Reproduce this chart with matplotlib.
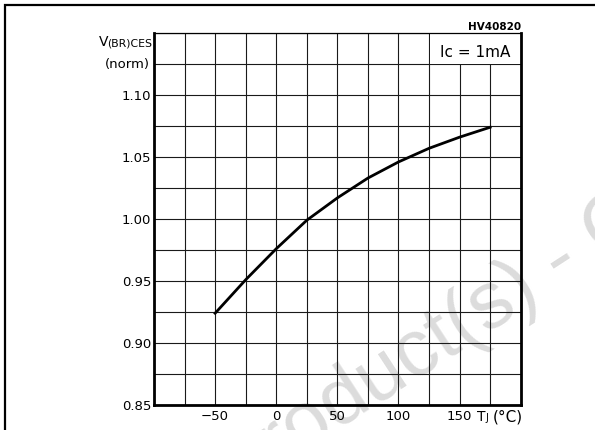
import numpy as np
import matplotlib.pyplot as plt
from matplotlib.patches import Rectangle

# junction temperature (degC) and normalised breakdown voltage
temp_c = [-50, -25, 0, 25, 50, 75, 100, 125, 150, 175]
v_norm = [0.924, 0.951, 0.976, 0.999, 1.017, 1.033, 1.046, 1.057, 1.066, 1.074]

x_labels = [-50, 0, 50, 100, 150]
y_labels = [0.85, 0.90, 0.95, 1.00, 1.05, 1.10]

plt.rcParams['font.family'] = ['DejaVu Sans']

fig = plt.figure(figsize=(5.95, 4.30), dpi=100)
W, H = 595.0, 430.0

# outer frame (cut by the image edge on the right and bottom)
fig.patches.append(Rectangle((5 / W, -0.2), 1.2, (1 - 5 / H) + 0.2,
                             transform=fig.transFigure, fill=False,
                             edgecolor='black', linewidth=1.6))

# faint watermark, sits behind the grid
fig.text(233 / W, 1 - 499 / H, 'Product(s) - Obsolete Product(s)',
         rotation=33, rotation_mode='anchor', ha='left', va='baseline',
         fontsize=57.6, color='#dcdcdc', family='Liberation Sans', zorder=-1)

ax = fig.add_axes([154 / W, 1 - 405 / H, (520.7 - 154) / W, (405 - 33) / H])
ax.set_facecolor('none')
ax.set_xlim(-100, 200)
ax.set_ylim(0.85, 1.15)

# grid every 25 degC and every 0.025
ax.set_xticks(x_labels)
ax.set_xticklabels([str(v).replace('-', '\u2212') for v in x_labels])
ax.set_xticks(np.arange(-100, 201, 25), minor=True)
ax.set_yticks(y_labels)
ax.set_yticklabels(['%.2f' % v for v in y_labels])
ax.set_yticks(np.arange(0.85, 1.151, 0.025), minor=True)
ax.grid(True, which='both', color='#1a1a1a', linewidth=0.8)
ax.tick_params(which='both', length=0)
ax.tick_params(axis='x', pad=3.5, labelsize=9.5)
ax.tick_params(axis='y', pad=2.0, labelsize=9.5)
ax.set_axisbelow(True)

for side in ['left', 'bottom', 'right']:
    ax.spines[side].set_linewidth(2.0)
ax.spines['top'].set_linewidth(0.9)

ax.plot(temp_c, v_norm, color='black', linewidth=2.0, zorder=3)

# white box with the test condition in the top-right cell
ax.add_patch(Rectangle((125.6, 1.1253), 74.4, 0.0247, facecolor='white',
                       edgecolor='none', zorder=2))
ax.text(162.6, 1.1345, 'Ic = 1mA', ha='center', va='center', fontsize=11, zorder=4)

# axis captions
fig.text(108 / W, 1 - 46 / H, 'V', ha='right', va='baseline', fontsize=10)
fig.text(152 / W, 1 - 46 / H, '(BR)CES', ha='right', va='baseline', fontsize=7.8)
fig.text(150 / W, 1 - 68 / H, '(norm)', ha='right', va='baseline', fontsize=9.5)
fig.text(521 / W, 1 - 30 / H, 'HV40820', ha='right', va='baseline', fontsize=7.5,
         fontweight='bold')

fig.text(477 / W, 1 - 421 / H, 'T', ha='left', va='baseline', fontsize=10)
fig.text(485 / W, 1 - 421 / H, 'J', ha='left', va='baseline', fontsize=7)
fig.text(493 / W, 1 - 421 / H, '(\u00b0C)', ha='left', va='baseline', fontsize=11)

fig.savefig('out.png', dpi=100)
